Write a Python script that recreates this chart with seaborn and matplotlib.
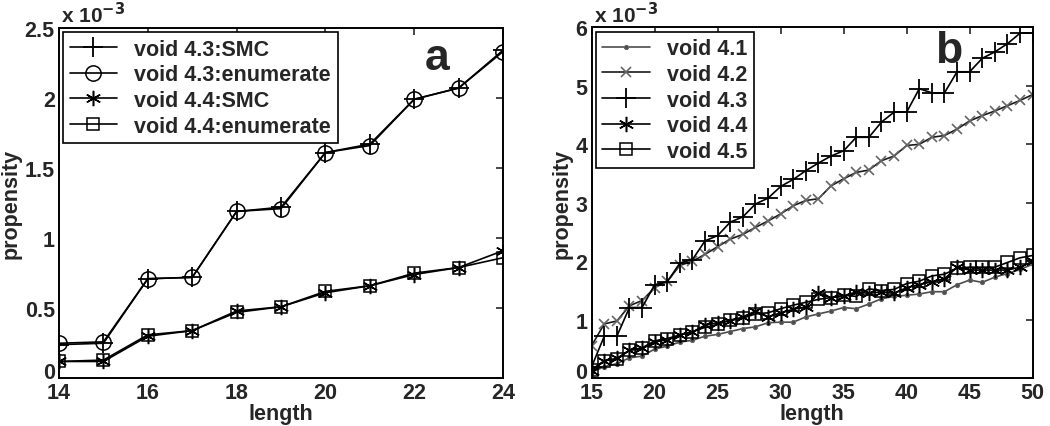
import numpy as np
import seaborn as sns
import matplotlib
matplotlib.use("Agg")
import matplotlib.pyplot as plt
from matplotlib.ticker import FuncFormatter
from matplotlib.transforms import ScaledTranslation

# panel a: length 14..24, propensity in units of 1e-3
len_a = list(range(14, 25))
v43_smc = [0.24, 0.25, 0.71, 0.72, 1.19, 1.22, 1.61, 1.67, 1.99, 2.07, 2.34]
v43_enum = [0.25, 0.26, 0.71, 0.72, 1.19, 1.21, 1.61, 1.66, 1.99, 2.07, 2.33]
v44_smc = [0.12, 0.12, 0.30, 0.34, 0.48, 0.51, 0.61, 0.66, 0.74, 0.79, 0.91]
v44_enum = [0.12, 0.13, 0.31, 0.34, 0.47, 0.51, 0.62, 0.66, 0.75, 0.79, 0.86]

# panel b: length 15..50
len_b = list(range(15, 51))
v41 = [0.10, 0.20, 0.25, 0.35, 0.38, 0.50, 0.55, 0.62, 0.65, 0.72, 0.75, 0.80,
       0.85, 0.88, 0.95, 0.96, 0.96, 1.05, 1.10, 1.15, 1.21, 1.19, 1.27, 1.36,
       1.40, 1.42, 1.44, 1.48, 1.48, 1.60, 1.68, 1.64, 1.73, 1.79, 1.86, 1.95]
v42 = [0.56, 0.93, 0.98, 1.24, 1.33, 1.55, 1.66, 1.93, 2.00, 2.12, 2.25, 2.38,
       2.46, 2.58, 2.69, 2.81, 2.95, 3.04, 3.07, 3.29, 3.41, 3.52, 3.56, 3.72,
       3.80, 3.98, 4.00, 4.12, 4.15, 4.26, 4.40, 4.49, 4.57, 4.66, 4.75, 4.85]
v43 = [0.20, 0.72, 0.72, 1.21, 1.21, 1.60, 1.65, 1.97, 2.03, 2.35, 2.44, 2.67,
       2.76, 2.98, 3.08, 3.28, 3.40, 3.55, 3.68, 3.80, 3.89, 4.12, 4.12, 4.38,
       4.55, 4.55, 4.95, 4.88, 4.88, 5.24, 5.24, 5.47, 5.58, 5.72, 5.90, 5.90]
v44 = [0.12, 0.30, 0.34, 0.48, 0.51, 0.62, 0.66, 0.74, 0.79, 0.91, 0.95, 0.98,
       1.05, 1.15, 1.05, 1.12, 1.18, 1.22, 1.45, 1.38, 1.40, 1.48, 1.45, 1.48,
       1.45, 1.55, 1.60, 1.65, 1.70, 1.90, 1.85, 1.85, 1.85, 1.85, 1.90, 2.00]
v45 = [0.15, 0.30, 0.33, 0.48, 0.52, 0.64, 0.68, 0.74, 0.80, 0.87, 0.92, 1.00,
       1.03, 1.10, 1.12, 1.19, 1.25, 1.30, 1.35, 1.38, 1.42, 1.40, 1.53, 1.50,
       1.52, 1.62, 1.66, 1.75, 1.78, 1.88, 1.90, 1.90, 1.90, 1.98, 2.06, 2.10]

sns.set_style("white")
plt.rcParams['font.family'] = ['Liberation Sans', 'DejaVu Sans']
plt.rcParams['font.weight'] = 'bold'
plt.rcParams['axes.labelweight'] = 'bold'

fig = plt.figure(figsize=(10.5, 4.27), dpi=100)
ax1 = fig.add_axes([0.0562, 0.1117, 0.4229, 0.821])
ax2 = fig.add_axes([0.5635, 0.1117, 0.42, 0.822])

asterisk = (6, 2, 0)
lw = 1.2
fs = 15.5

# panel a
sns.lineplot(x=len_a, y=v43_enum, ax=ax1, color='black', lw=lw, marker='o', ms=11,
             mfc='none', mec='black', mew=1.1, label='void 4.3:enumerate')
sns.lineplot(x=len_a, y=v43_smc, ax=ax1, color='black', lw=lw, marker='+', ms=14,
             mec='black', mew=1.3, label='void 4.3:SMC')
sns.lineplot(x=len_a, y=v44_enum, ax=ax1, color='black', lw=lw, marker='s', ms=8,
             mfc='none', mec='black', mew=1.1, label='void 4.4:enumerate')
sns.lineplot(x=len_a, y=v44_smc, ax=ax1, color='black', lw=lw, marker=asterisk, ms=11,
             mec='black', mew=1.1, label='void 4.4:SMC')

h, l = ax1.get_legend_handles_labels()
order = [1, 0, 3, 2]
ax1.legend([h[i] for i in order], [l[i] for i in order], loc='upper left',
           fancybox=False, edgecolor='black', framealpha=1, fontsize=fs,
           borderaxespad=0.2, handlelength=2.2, labelspacing=0.22,
           borderpad=0.3).get_frame().set_linewidth(1.2)
ax1.set_xlim(14, 24)
ax1.set_ylim(0, 2.5)
ax1.set_xticks([14, 16, 18, 20, 22, 24])
ax1.set_yticks([0, 0.5, 1, 1.5, 2, 2.5])
ax1.text(0.851, 0.916, 'a', transform=ax1.transAxes, fontsize=32,
         fontweight='bold', ha='center', va='center')

# panel b
sns.lineplot(x=len_b, y=v41, ax=ax2, color='0.3', lw=lw, marker='.', ms=6,
             mec='0.4', label='void 4.1')
sns.lineplot(x=len_b, y=v42, ax=ax2, color='0.1', lw=lw, marker='x', ms=7,
             mec='0.4', mew=1.2, label='void 4.2')
sns.lineplot(x=len_b, y=v43, ax=ax2, color='black', lw=lw, marker='+', ms=14,
             mec='black', mew=1.3, label='void 4.3')
sns.lineplot(x=len_b, y=v44, ax=ax2, color='black', lw=lw, marker=asterisk, ms=11,
             mec='black', mew=1.1, label='void 4.4')
sns.lineplot(x=len_b, y=v45, ax=ax2, color='black', lw=lw, marker='s', ms=8,
             mfc='none', mec='black', mew=1.1, label='void 4.5')
ax2.legend(loc='upper left', fancybox=False, edgecolor='black', framealpha=1,
           fontsize=fs, borderaxespad=0.2, handlelength=2.2, labelspacing=0.22,
           borderpad=0.3).get_frame().set_linewidth(1.2)
ax2.set_xlim(15, 50)
ax2.set_ylim(0, 6)
ax2.set_xticks([15, 20, 25, 30, 35, 40, 45, 50])
ax2.set_yticks([0, 1, 2, 3, 4, 5, 6])
ax2.text(0.81, 0.935, 'b', transform=ax2.transAxes, fontsize=32,
         fontweight='bold', ha='center', va='center')

for ax in (ax1, ax2):
    ax.set_xlabel('length', fontsize=fs, labelpad=0)
    ax.set_ylabel('propensity', fontsize=fs, labelpad=2)
    ax.yaxis.set_major_formatter(FuncFormatter(lambda v, p: f'{v:g}'))
    ax.tick_params(direction='in', top=True, right=True, length=5, width=1.2,
                   labelsize=15.5)
    ax.tick_params(axis='x', pad=3)
    ax.tick_params(axis='y', pad=3)
    for s in ax.spines.values():
        s.set_linewidth(1.4)
        s.set_color('black')
    ax.text(0.005, 1.003, r'x 10$^{-3}$', transform=ax.transAxes, fontsize=15,
            ha='left', va='bottom')
    # lift the "0" a little so it sits above the first x label
    fig.canvas.draw()
    lab0 = ax.get_yticklabels()[0]
    lab0.set_transform(lab0.get_transform() + ScaledTranslation(0, 6 / 72, fig.dpi_scale_trans))

fig.savefig('out.png', dpi=100)
